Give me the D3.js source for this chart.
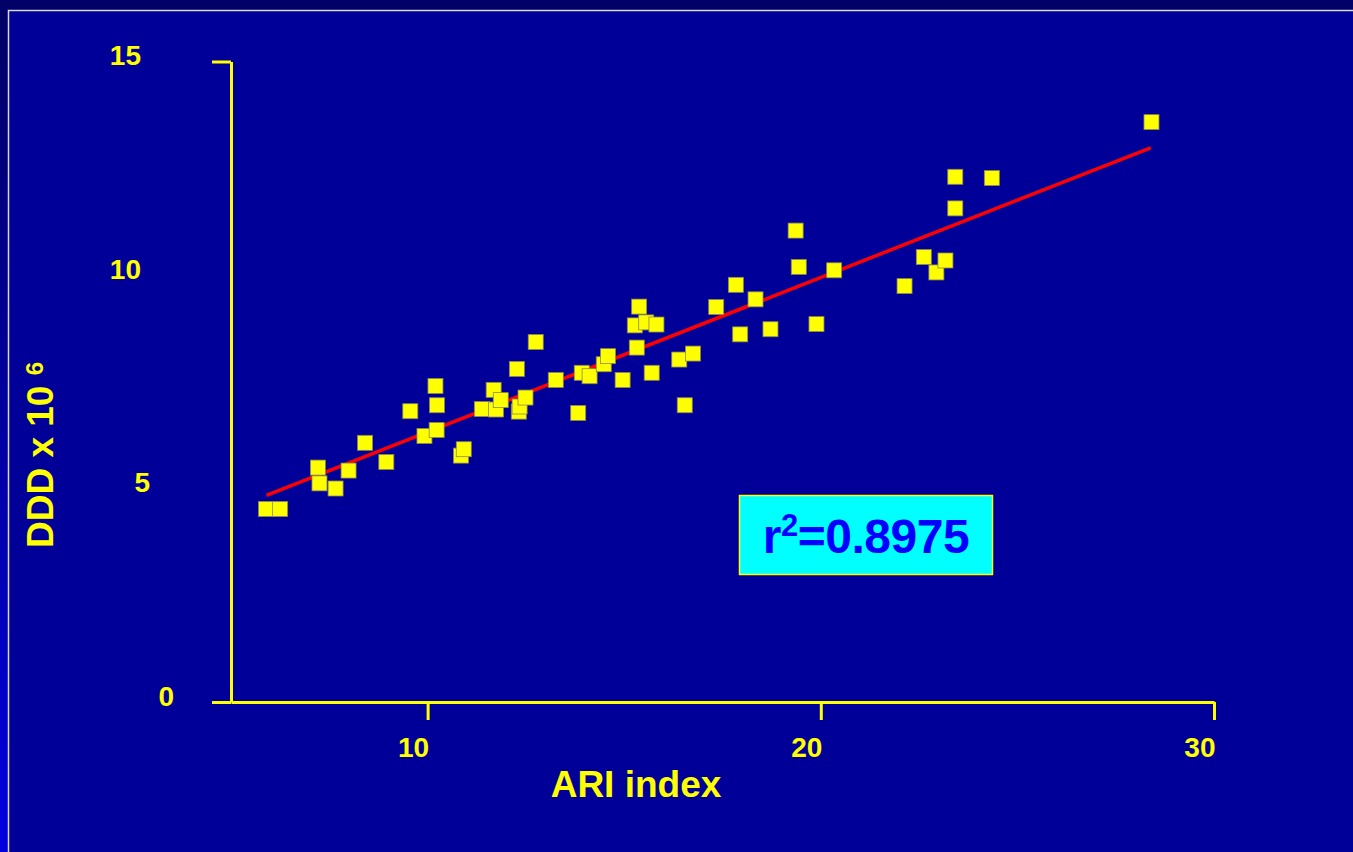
<!DOCTYPE html>
<html>
<head>
<meta charset="utf-8">
<script src="https://cdn.jsdelivr.net/npm/d3@7"></script>
<style>
  body { margin: 0; background: #000066; }
  svg { display: block; font-family: "Liberation Sans", Arial, sans-serif; font-weight: bold; }
</style>
</head>
<body>
<svg id="chart" width="1353" height="852"></svg>
<script>
// ARI index vs DDD x 10^6
const ariIndex = [5.89, 6.25, 7.21, 7.25, 7.66, 7.99, 8.41, 8.95, 9.56, 9.92,
    10.20, 10.24, 10.23, 10.85, 10.92, 11.38, 11.68, 11.74, 11.86, 12.27,
    12.32, 12.34, 12.49, 12.75, 13.26, 13.83, 13.92, 14.12, 14.48, 14.59,
    14.96, 15.32, 15.38, 15.27, 15.56, 15.82, 15.70, 16.40, 16.54, 16.75,
    17.34, 17.84, 17.95, 18.34, 18.72, 19.36, 19.44, 19.89, 20.34, 22.13,
    22.62, 22.94, 23.17, 23.42, 23.42, 24.35, 28.41];
const ddd = [4.52, 4.52, 5.49, 5.12, 5.00, 5.42, 6.07, 5.62, 6.81, 6.23,
    7.40, 6.95, 6.37, 5.77, 5.92, 6.86, 7.31, 6.85, 7.07, 7.80,
    6.80, 6.92, 7.13, 8.43, 7.54, 6.77, 7.71, 7.63, 7.91, 8.10,
    7.54, 8.30, 9.26, 8.82, 8.89, 8.84, 7.71, 8.02, 6.95, 8.16,
    9.25, 9.77, 8.61, 9.43, 8.73, 11.04, 10.19, 8.85, 10.11, 9.74,
    10.42, 10.06, 10.34, 12.30, 11.56, 12.27, 13.58];

// regression line end points
const fitX = [5.90, 28.39];
const fitY = [4.84, 12.98];

const xTicks = [10, 20, 30];
const yTicks = [0, 5, 10, 15];
const yTickMarks = [0, 15];
const rSquared = "0.8975";

const svg = d3.select("#chart");
const yellow = "#ffff00";

// slide background
const defs = svg.append("defs");
const grad = defs.append("linearGradient")
    .attr("id", "edge").attr("x1", 0).attr("y1", 0).attr("x2", 0).attr("y2", 1);
grad.append("stop").attr("offset", "0%").attr("stop-color", "#000066");
grad.append("stop").attr("offset", "100%").attr("stop-color", "#0000dd");

svg.append("rect").attr("width", 1353).attr("height", 852).attr("fill", "#000066");
svg.append("rect").attr("x", 0).attr("y", 10).attr("width", 9).attr("height", 842)
    .attr("fill", "url(#edge)");
svg.append("rect").attr("x", 9).attr("y", 11).attr("width", 1344).attr("height", 841)
    .attr("fill", "#000099");
svg.append("path").attr("d", "M8.5,852V10.5H1353")
    .attr("fill", "none").attr("stroke", "#d8d8e8").attr("stroke-width", 1.5);

const x = d3.scaleLinear().domain([5, 30]).range([231, 1214]);
const y = d3.scaleLinear().domain([0, 15]).range([702, 61.5]);

// x axis
const gx = svg.append("g")
    .attr("transform", `translate(0,${y(0)})`)
    .call(d3.axisBottom(x).tickValues(xTicks).tickSize(18).tickSizeOuter(0));

// y axis
const gy = svg.append("g")
    .attr("transform", `translate(${x(5)},0)`)
    .call(d3.axisLeft(y).tickValues(yTicks).tickSize(19).tickSizeOuter(0));

[gx, gy].forEach(g => {
    g.select(".domain").attr("stroke", yellow).attr("stroke-width", 3);
    g.selectAll(".tick line").attr("stroke", yellow).attr("stroke-width", 3);
    g.selectAll(".tick text").attr("fill", yellow)
        .attr("font-size", 28).attr("font-family", null).attr("font-weight", "bold");
});

gx.selectAll(".tick text")
    .attr("text-anchor", "end").attr("x", 1).attr("y", 55).attr("dy", null);

// the slide only marks 0 and 15 on the value axis; labels sit a bit loose
const yLabelRight = { 0: -57, 5: -81, 10: -90, 15: -90 };
gy.selectAll(".tick line").attr("x2", d => yTickMarks.includes(d) ? -19 : 0);
gy.selectAll(".tick text")
    .attr("text-anchor", "end")
    .attr("x", d => yLabelRight[d])
    .attr("dy", 3)
    .attr("dominant-baseline", null);

// axis titles
svg.append("text")
    .attr("x", 636).attr("y", 797)
    .attr("text-anchor", "middle")
    .attr("fill", yellow).attr("font-size", 37)
    .text("ARI index");

const yTitle = svg.append("text")
    .attr("transform", "translate(53,455) rotate(-90)")
    .attr("text-anchor", "middle")
    .attr("fill", yellow).attr("font-size", 37);
yTitle.append("tspan").text("DDD x 10 ");
yTitle.append("tspan").attr("font-size", 24).attr("dy", -10).text("6");

// regression line
const fit = fitX.map((v, i) => [v, fitY[i]]);
svg.append("path")
    .datum(fit)
    .attr("fill", "none")
    .attr("stroke", "#ff0000")
    .attr("stroke-width", 3.5)
    .attr("d", d3.line().x(d => x(d[0])).y(d => y(d[1])));

// points
const points = ariIndex.map((v, i) => ({ ari: v, ddd: ddd[i] }));
const size = 15;
svg.append("g")
    .selectAll("rect")
    .data(points)
    .enter().append("rect")
    .attr("x", d => x(d.ari) - size / 2)
    .attr("y", d => y(d.ddd) - size / 2)
    .attr("width", size)
    .attr("height", size)
    .attr("fill", yellow)
    .attr("stroke", "#8a8a50")
    .attr("stroke-width", 0.8);

// r squared box
const box = svg.append("g");
box.append("rect")
    .attr("x", 739.5).attr("y", 495.5).attr("width", 253).attr("height", 79)
    .attr("fill", "#00ffff").attr("stroke", yellow).attr("stroke-width", 1.5);
const rText = box.append("text")
    .attr("x", 866).attr("y", 553)
    .attr("text-anchor", "middle")
    .attr("fill", "#0000ff").attr("font-size", 48)
    .attr("letter-spacing", -0.5);
rText.append("tspan").text("r");
rText.append("tspan").attr("font-size", 31).attr("dy", -17).text("2");
rText.append("tspan").attr("dy", 17).text("=" + rSquared);
</script>
</body>
</html>
